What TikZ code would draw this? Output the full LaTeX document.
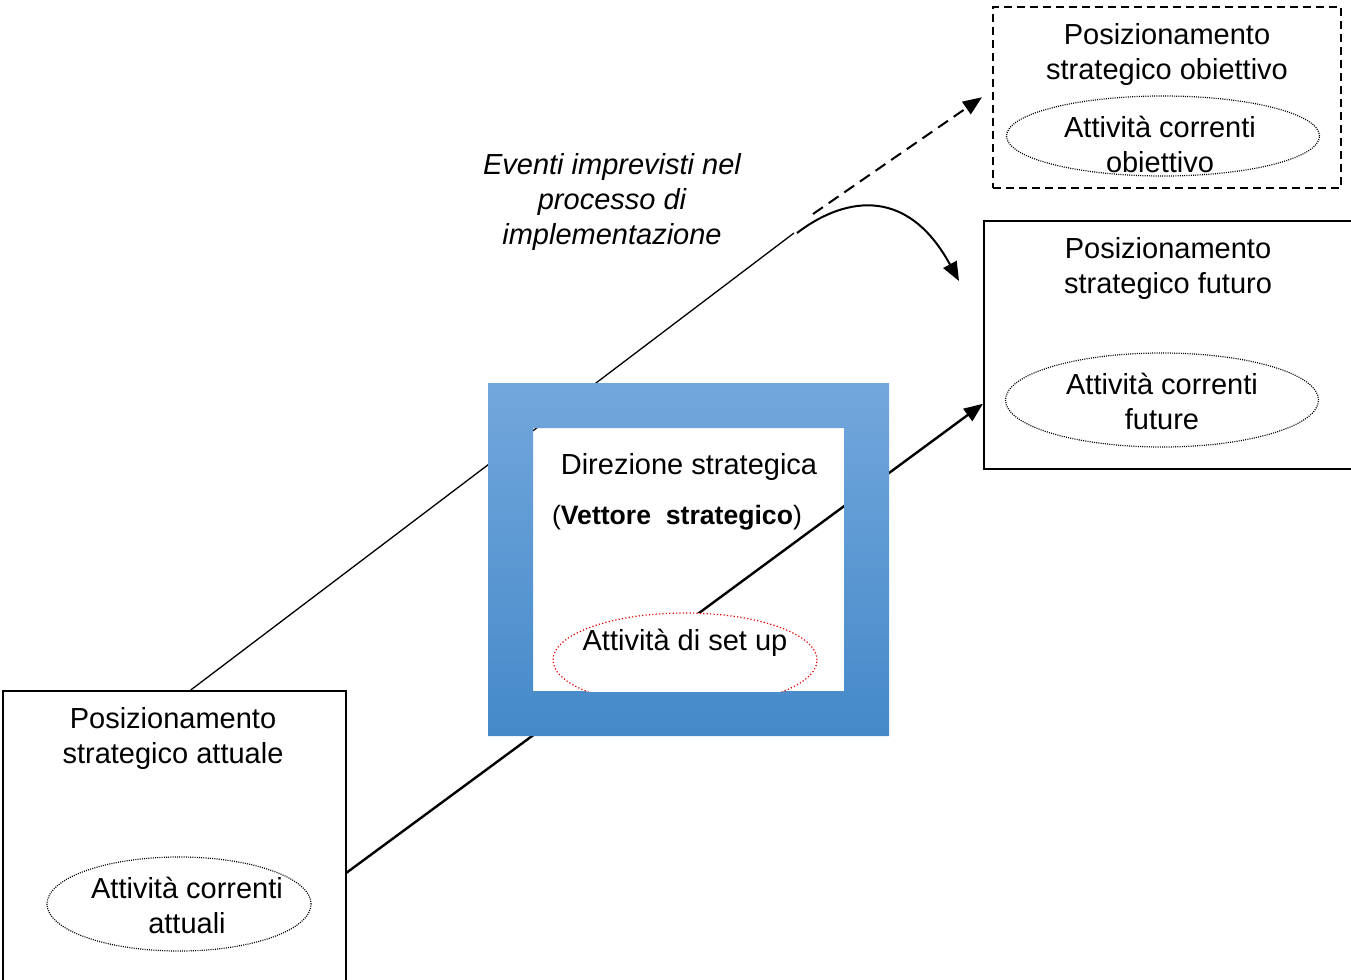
\documentclass[tikz,border=0pt]{standalone}
\usepackage{fontspec}
\setmainfont{Liberation Sans}
\usetikzlibrary{arrows.meta,shapes.geometric}
\definecolor{frametop}{RGB}{114,167,220}
\definecolor{framebot}{RGB}{69,137,201}
\definecolor{setupred}{RGB}{235,0,0}

\begin{document}
\begin{tikzpicture}[x=0.5pt,y=-0.5pt,
  testo/.style={align=center,font=\fontsize{14.5}{17.5}\selectfont,inner sep=0pt},
  riquadro/.style={draw,line width=0.75pt,anchor=north west,inner sep=0pt},
  ovale/.style={ellipse,draw,line width=0.6pt,dash pattern=on 0.5pt off 0.6pt,inner sep=0pt},
  punta/.style={-{Triangle[length=9.5pt,width=7.5pt]}}]
  \clip (0,0) rectangle (1351,980);

  % riquadri
  \node [riquadro, minimum width=171.5pt, minimum height=150pt] (attuale) at (2,690) {};
  \node [riquadro, minimum width=188.5pt, minimum height=124pt] (futuro) at (983,220) {};
  \node [riquadro, dash pattern=on 4pt off 2.5pt, minimum width=174pt, minimum height=90.5pt] (obiettivo) at (992,6) {};

  \coordinate (a1) at ([xshift=8.25pt]attuale.north);
  \coordinate (a2) at ([yshift=-16pt]attuale.east);
  \coordinate (f1) at ([yshift=-29.5pt]futuro.west);
  \coordinate (o1) at ([xshift=-5pt]obiettivo.west);
  \coordinate (k) at (794,233);
  \coordinate (d0) at (813,214);
  \coordinate (f0) at (959,281);

  % vettori
  \draw [line width=0.65pt] (a1) -- (k);
  \draw [line width=1.2pt, punta] (a2) -- (f1);

  % direzione strategica
  \shade [top color=frametop, bottom color=framebot, even odd rule]
    (488,383) rectangle (889,736) (533,428) rectangle (844,691);
  \begin{scope}
    \clip (533,428) rectangle (844,691);
    \node [ovale, draw=setupred, line width=0.6pt, dash pattern=on 0.6pt off 1.1pt, fill=white,
      minimum width=132pt, minimum height=47pt] (setup) at (685,660) {};
  \end{scope}
  \node [testo] (direzione) at (689,467) {Direzione strategica};
  \node [testo, font=\fontsize{13.3}{16}\selectfont] (vettore) at (677,518) {(\textbf{Vettore\ \ strategico})};
  \node [testo] (setup-txt) at (685,643) {Attività di set up};

  % ovali
  \node [ovale, minimum width=132pt, minimum height=47pt] (attuale-ov) at (179,904) {};
  \node [ovale, minimum width=156.5pt, minimum height=47pt] (futuro-ov) at (1162,400) {};
  \node [ovale, minimum width=156.5pt, minimum height=40pt] (obiettivo-ov) at (1163,136) {};

  % testi
  \node [testo] (attuale-tit) at (173,738) {Posizionamento\\strategico attuale};
  \node [testo] (attuale-att) at (187,905) {Attività correnti\\attuali};
  \node [testo] (futuro-tit) at (1168,268) {Posizionamento\\strategico futuro};
  \node [testo] (futuro-att) at (1162,401) {Attività correnti\\future};
  \node [testo] (obiettivo-tit) at (1167,54) {Posizionamento\\strategico obiettivo};
  \node [testo] (obiettivo-att) at (1160,144) {Attività correnti\\obiettivo};
  \node [testo, font={\fontsize{14.5}{17.5}\selectfont\itshape}] (eventi) at (612,202)
    {Eventi imprevisti nel\\processo di\\implementazione};

  % deviazioni
  \draw [line width=1pt, dash pattern=on 6pt off 3.5pt, punta] (d0) -- (o1);
  \draw [line width=1pt, punta] ([xshift=1.5pt]k) .. controls (840,200) and (905,182) .. (f0);
\end{tikzpicture}
\end{document}
